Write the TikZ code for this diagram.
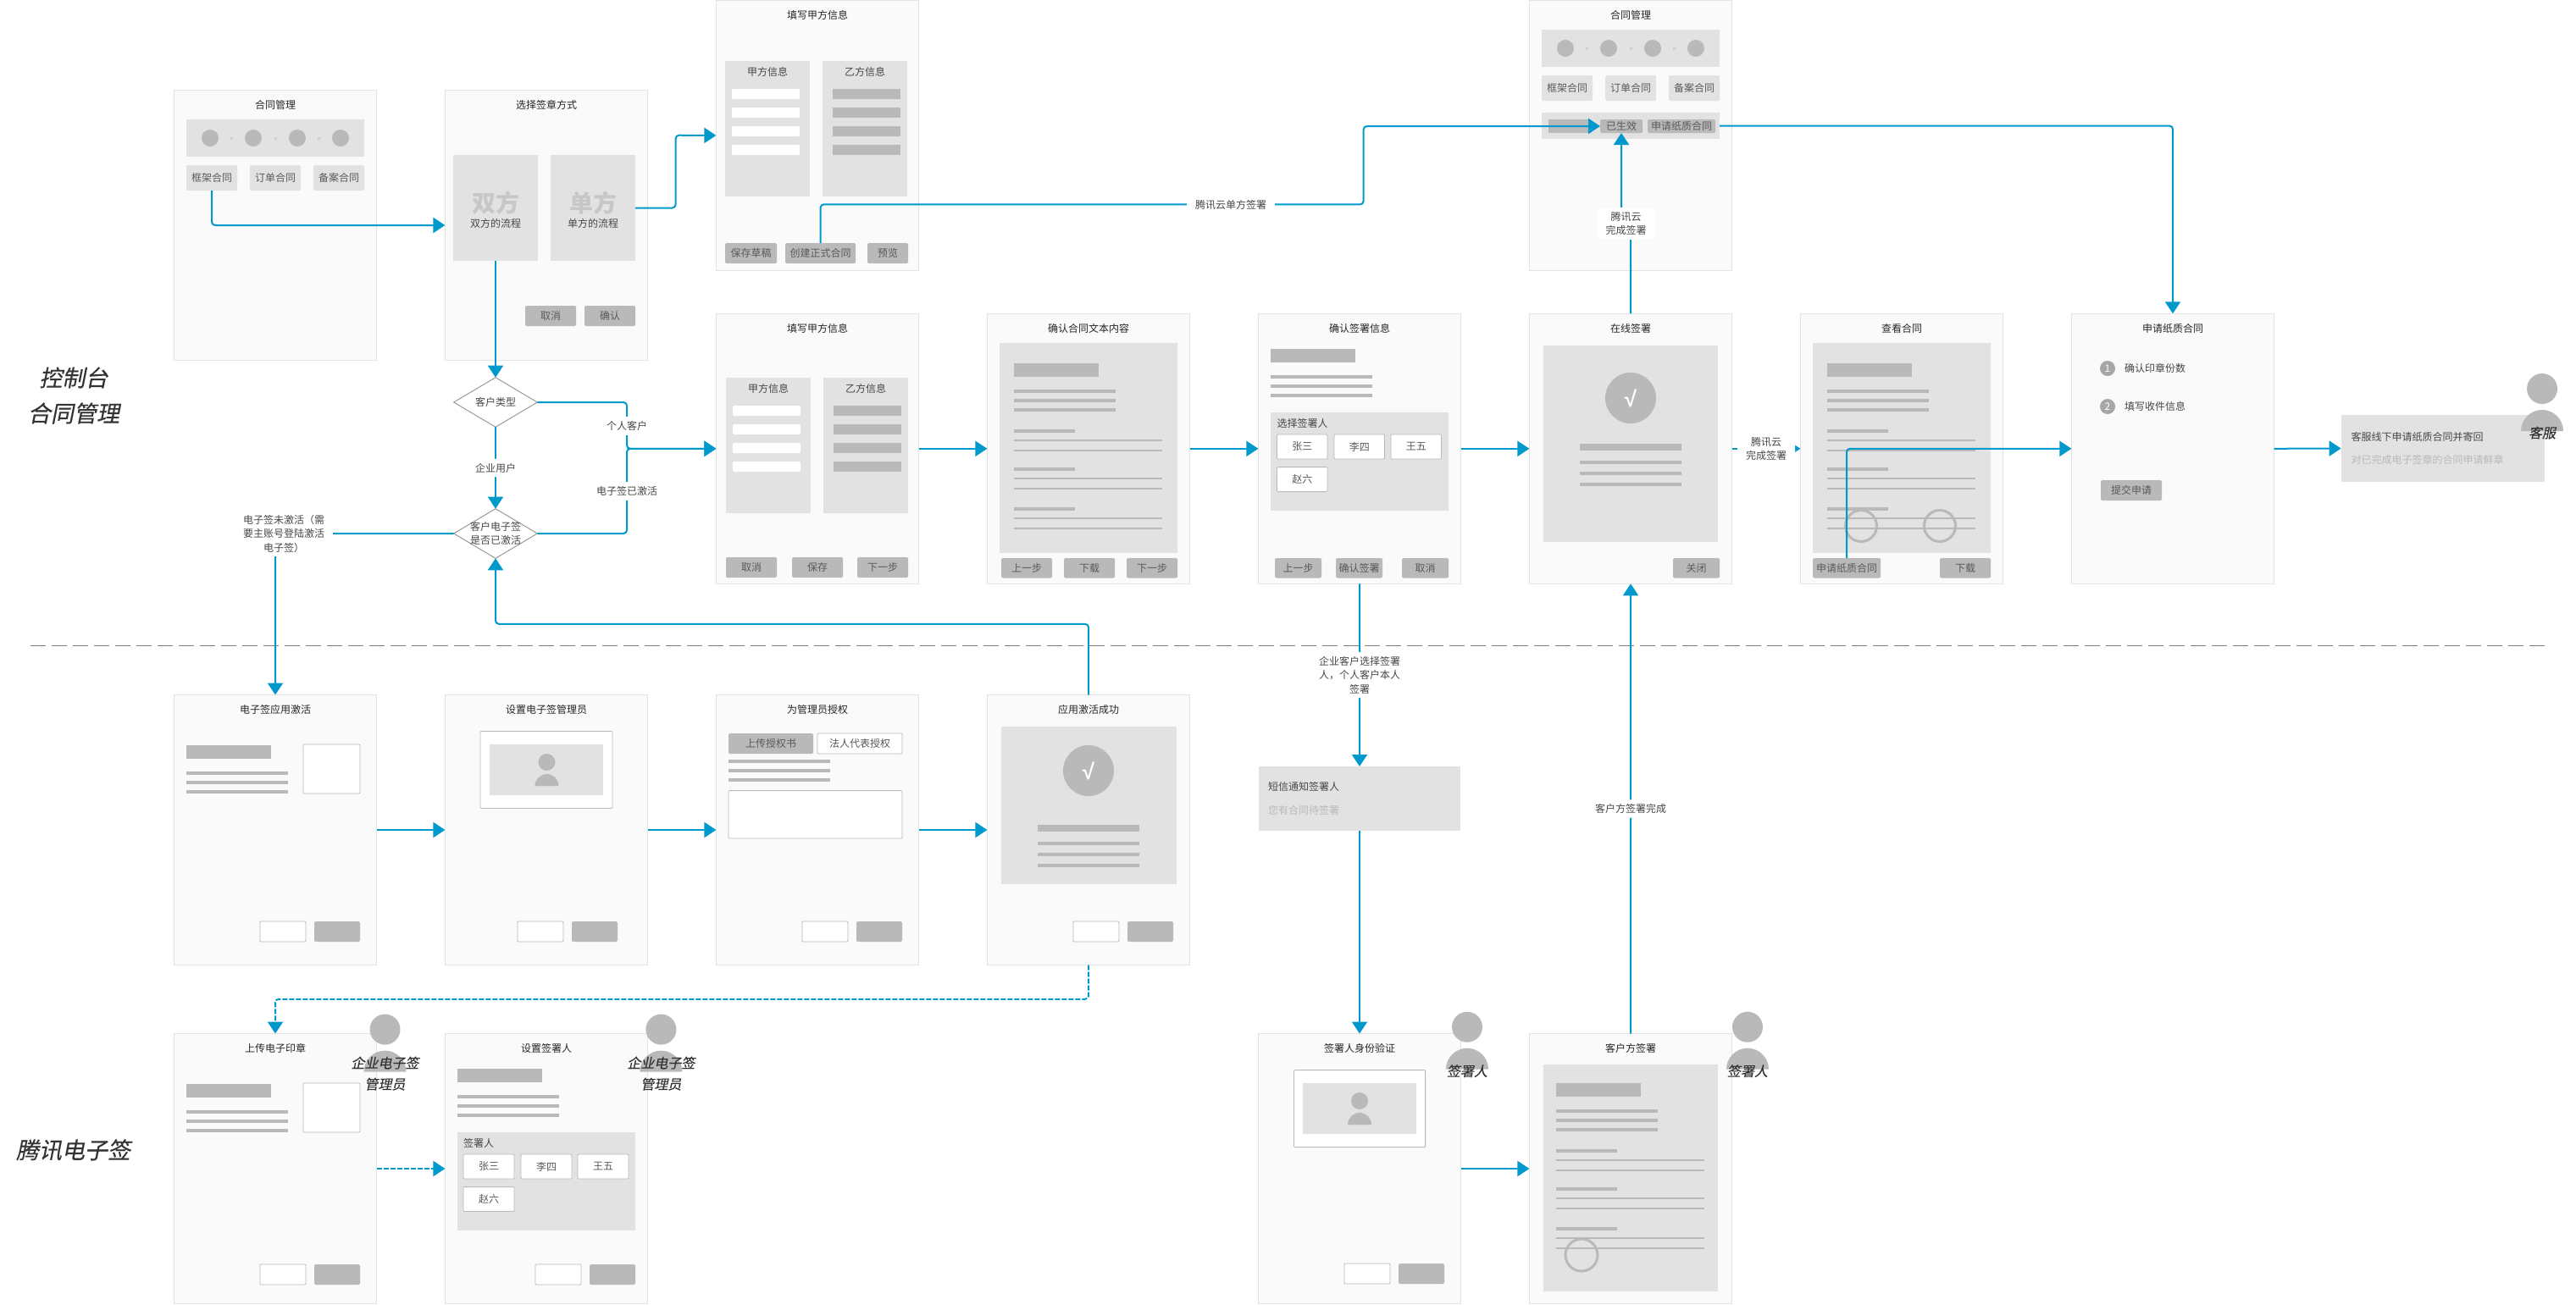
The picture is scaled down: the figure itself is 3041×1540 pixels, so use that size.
\documentclass[tikz,border=0pt]{standalone}
\usepackage{fontspec}
\setmainfont{Noto Sans CJK SC}
\newfontfamily\slantfont[FakeSlant=0.2,FakeBold=0.4]{Noto Sans CJK SC}
\newfontfamily\checkfont{Liberation Sans}
\usepackage{xcolor}
\usetikzlibrary{positioning,arrows.meta,shapes.geometric}

\definecolor{linkblue}{HTML}{0099CC}
\definecolor{panelbg}{HTML}{FAFAFA}
\definecolor{panelline}{HTML}{E3E3E3}
\definecolor{lightgrey}{HTML}{E2E2E2}
\definecolor{darkgrey}{HTML}{B9B9B9}

\tikzset{
  panelbox/.style={draw=panelline,fill=panelbg,line width=1pt,minimum width=239.2pt,minimum height=319pt},
  titletext/.style={text=black!85},
  lbl/.style={text=black!72},
  hint/.style={text=darkgrey},
  note/.style={fill=white,text=black!72,align=center,inner xsep=10pt,inner ysep=5pt},
  group/.style={fill=lightgrey},
  btn/.style={fill=darkgrey,text=black!65,rounded corners=1.5pt},
  softbtn/.style={fill=lightgrey,text=black!65,rounded corners=1.5pt},
  whitebtn/.style={draw=darkgrey,fill=white,text=black!65,line width=.8pt,rounded corners=1pt},
  check/.style={text=white,font=\checkfont\bfseries\fontsize{26pt}{26pt}\selectfont},
  numdot/.style={circle,fill=black!35,text=white,minimum size=18pt},
  dia/.style={diamond,draw=black!40,fill=white,line width=1pt,shape aspect=1.68,minimum width=98.6pt,minimum height=58.6pt},
  link/.style={draw=linkblue,line width=2pt,rounded corners=4pt,-{Triangle[length=14pt,width=18pt]}},
  dashlink/.style={link,dash pattern=on 6pt off 2pt},
  stamp/.style={draw=darkgrey,line width=3pt},
  divider/.style={draw=black!50,line width=1.2pt,dash pattern=on 18pt off 7pt},
  section/.style={text=black!80,align=center,font=\slantfont\fontsize{27pt}{42pt}\selectfont},
  rolename/.style={text=black!80,align=center,font=\slantfont\fontsize{16pt}{25pt}\selectfont}
}

% box given by its corners: style, name, x1, y1, x2, y2, text
\newcommand{\uibox}[7]{\node[#1,minimum width={((#5)-(#3))*1pt},minimum height={((#6)-(#4))*1pt}] (#2) at ({((#3)+(#5))/2},{((#4)+(#6))/2}) {#7};}
\newcommand{\panel}[3]{\node[panelbox,#1] (#2) {}; \node[titletext,below=12pt of #2.north] (#2Title) {#3};}
\newcommand{\thickbars}[3]{\foreach \ypos in {#3} {\fill[darkgrey] (#1,\ypos-2) rectangle (#2,\ypos+2);}}
\newcommand{\thinbars}[3]{\foreach \ypos in {#3} {\fill[darkgrey] (#1,\ypos-1) rectangle (#2,\ypos+1);}}
\newcommand{\stepsbar}[3]{%
  \uibox{group}{#1}{#2}{#3}{#2+210}{#3+44}{}
  \foreach \xoff in {28,79,131,182} {\fill[darkgrey] (#2+\xoff,#3+22) circle[radius=10pt];}
  \foreach \xoff in {53.5,105,156.5} {\fill[darkgrey!70] (#2+\xoff-1.5,#3+20.5) rectangle (#2+\xoff+1.5,#3+23.5);}
}
\newcommand{\partyform}[3]{%
  \uibox{group}{#1Left}{#2}{#3}{#2+100}{#3+160}{}
  \uibox{group}{#1Right}{#2+115}{#3}{#2+215}{#3+160}{}
  \node[lbl] (#1LeftName) at (#2+50,#3+13) {甲方信息};
  \node[lbl] (#1RightName) at (#2+165,#3+13) {乙方信息};
  \foreach \yoff in {33,55,77,99} {
    \fill[white,rounded corners=1pt] (#2+8,#3+\yoff) rectangle (#2+88,#3+\yoff+12);
    \fill[darkgrey] (#2+127,#3+\yoff) rectangle (#2+207,#3+\yoff+12);
  }
}
\newcommand{\contractdoc}[2]{%
  \uibox{group}{#2}{#1-17}{405}{#1+193}{653}{}
  \fill[darkgrey] (#1,429) rectangle (#1+100,445);
  \thickbars{#1}{#1+120}{462,472.6,483.7}
  \thickbars{#1}{#1+72}{509,554,601}
  \thinbars{#1}{#1+175}{520,532,565,577,612,624}
}
\newcommand{\sealbody}[2]{%
  \fill[darkgrey] (219.7,#1+59) rectangle (319.7,#1+75);
  \thickbars{219.7}{340}{#1+92,#1+103,#1+114}
  \uibox{whitebtn}{#2Seal}{358}{#1+58}{425}{#1+116}{}
}
\newcommand{\pairbtns}[3]{%
  \uibox{whitebtn}{#1Back}{#2}{#3}{#2+54}{#3+24}{}
  \uibox{btn}{#1Next}{#2+64}{#3}{#2+118}{#3+24}{}
}
\newcommand{\avatar}[2]{%
  \fill[darkgrey] (#1,#2) circle[radius=10pt];
  \fill[darkgrey] (#1-14,#2+28) arc[start angle=180,end angle=0,x radius=14pt,y radius=14pt] -- cycle;
}
\newcommand{\person}[4]{%
  \node[circle,fill=darkgrey,minimum size=36pt] (#1Head) at (#2,#3) {};
  \fill[darkgrey] (#2-25,#3+50) arc[start angle=180,end angle=0,x radius=25pt,y radius=25pt] -- cycle;
  \node[rolename] (#1Name) at (#2,#3+52) {#4};
}

\begin{document}
\begin{tikzpicture}[x=1pt,y=-1pt,every node/.style={inner sep=0pt,outer sep=0pt,font=\fontsize{12pt}{16.5pt}\selectfont}]
  \useasboundingbox (0,0) rectangle (3041,1540);

  \coordinate (divL) at (36,762.5);
  \coordinate (divR) at (3006,762.5);
  \draw[divider] (divL) -- (divR);

  \node[section] (consoleName) at (87,467) {控制台\\合同管理};
  \node[section] (signName) at (86.5,1358) {腾讯电子签};

  % first row
  \panel{at={(325,266)}}{contract}{合同管理}
  \panel{right=80.8pt of contract}{choice}{选择签章方式}
  \stepsbar{stepsA}{220}{141}
  \uibox{softbtn}{btnFrame}{220}{195}{280}{225}{框架合同}
  \uibox{softbtn}{btnOrder}{295}{195}{355}{225}{订单合同}
  \uibox{softbtn}{btnFile}{370}{195}{430}{225}{备案合同}
  \uibox{group}{cardBoth}{535}{183}{635}{308}{}
  \uibox{group}{cardSingle}{650}{183}{750}{308}{}
  \node[text=black!22,font=\bfseries\fontsize{28pt}{28pt}\selectfont] (bothBig) at (585,240) {双方};
  \node[text=black!22,font=\bfseries\fontsize{28pt}{28pt}\selectfont] (singleBig) at (700,240) {单方};
  \node[lbl] (bothSub) at (585,264) {双方的流程};
  \node[lbl] (singleSub) at (700,264) {单方的流程};
  \uibox{btn}{btnCancel}{620}{361}{680}{385}{取消}
  \uibox{btn}{btnOk}{690}{361}{750}{385}{确认}

  % party forms
  \panel{at={(965,529.8)}}{formMid}{填写甲方信息}
  \panel{above=50.8pt of formMid}{formTop}{填写甲方信息}
  \partyform{top}{856}{72}
  \uibox{btn}{btnDraft}{856}{287}{917}{311}{保存草稿}
  \uibox{btn}{btnCreate}{927}{287}{1010}{311}{创建正式合同}
  \uibox{btn}{btnPreview}{1024}{287}{1072}{311}{预览}
  \partyform{mid}{857}{446}
  \uibox{btn}{btnMidCancel}{857}{658}{917}{682}{取消}
  \uibox{btn}{btnMidSave}{935}{658}{995}{682}{保存}
  \uibox{btn}{btnMidNext}{1012}{658}{1072}{682}{下一步}

  % second row
  \panel{right=80.8pt of formMid}{textDoc}{确认合同文本内容}
  \panel{right=80.8pt of textDoc}{signInfo}{确认签署信息}
  \panel{right=80.8pt of signInfo}{online}{在线签署}
  \panel{right=80.8pt of online}{viewDoc}{查看合同}
  \panel{right=80.8pt of viewDoc}{paper}{申请纸质合同}
  \panel{above=50.8pt of online}{merged}{合同管理}

  \contractdoc{1197}{docText}
  \uibox{btn}{btnTextPrev}{1182}{659}{1242}{682.5}{上一步}
  \uibox{btn}{btnTextLoad}{1256}{659}{1316}{682.5}{下载}
  \uibox{btn}{btnTextNext}{1330}{659}{1390}{682.5}{下一步}

  \fill[darkgrey] (1500,412) rectangle (1600,428);
  \thickbars{1500}{1620}{444.5,455.6,466.8}
  \uibox{group}{pickGroup}{1500}{487}{1710}{603}{}
  \node[lbl,anchor=west] (pickName) at (1507.5,500) {选择签署人};
  \uibox{whitebtn}{pickZhang}{1507.5}{513}{1567}{542}{张三}
  \uibox{whitebtn}{pickLi}{1575}{513}{1634.5}{542}{李四}
  \uibox{whitebtn}{pickWang}{1642}{513}{1701.5}{542}{王五}
  \uibox{whitebtn}{pickZhao}{1507.5}{551.6}{1567}{580.6}{赵六}
  \uibox{btn}{btnInfoPrev}{1505}{659}{1560}{682.5}{上一步}
  \uibox{btn}{btnInfoSign}{1577}{659}{1632}{682.5}{确认签署}
  \uibox{btn}{btnInfoCancel}{1655}{659}{1710}{682.5}{取消}

  \uibox{group}{onlineDoc}{1822}{408}{2028}{640}{}
  \fill[darkgrey] (1925,470) circle[radius=30pt];
  \node[check] (onlineCheck) at (1925,470) {√};
  \fill[darkgrey] (1865,524) rectangle (1985,532);
  \thickbars{1865}{1985}{546,559,572}
  \uibox{btn}{btnClose}{1975}{659}{2030}{682.5}{关闭}

  \stepsbar{stepsB}{1820}{35}
  \uibox{softbtn}{btnFrameB}{1820}{89}{1880}{119}{框架合同}
  \uibox{softbtn}{btnOrderB}{1895}{89}{1955}{119}{订单合同}
  \uibox{softbtn}{btnFileB}{1970}{89}{2030}{119}{备案合同}
  \uibox{group}{statusBar}{1820}{133}{2030}{164}{}
  \fill[darkgrey] (1828,141) rectangle (1878,157);
  \uibox{btn}{effective}{1889}{141}{1939}{157}{已生效}
  \uibox{btn}{applyPaper}{1945}{141}{2025}{157}{申请纸质合同}

  \contractdoc{2157}{docView}
  \draw[stamp] (2197,621) circle[radius=18.5pt];
  \draw[stamp] (2290,621) circle[radius=18.5pt];
  \uibox{btn}{btnApply}{2140}{659}{2220}{682.5}{申请纸质合同}
  \uibox{btn}{btnLoad}{2290}{659}{2350}{682.5}{下载}

  \node[numdot] (numOne) at (2488,435) {1};
  \node[numdot] (numTwo) at (2488,480) {2};
  \node[lbl,right=11pt of numOne] (stepOne) {确认印章份数};
  \node[lbl,right=11pt of numTwo] (stepTwo) {填写收件信息};
  \uibox{btn}{btnSubmit}{2480}{567}{2552}{591}{提交申请}

  \uibox{group}{serviceBox}{2763.6}{490}{3003.6}{569}{}
  \node[lbl,anchor=west] (serviceTxt) at (2775.6,516) {客服线下申请纸质合同并寄回};
  \node[hint,anchor=west] (serviceHint) at (2775.6,543) {对已完成电子签章的合同申请鲜章};

  % third row
  \panel{at={(325,980)}}{appActive}{电子签应用激活}
  \panel{right=80.8pt of appActive}{adminSet}{设置电子签管理员}
  \panel{right=80.8pt of adminSet}{grant}{为管理员授权}
  \panel{right=80.8pt of grant}{success}{应用激活成功}

  \sealbody{821}{active}
  \pairbtns{active}{307}{1088}

  \uibox{whitebtn}{adminCard}{567}{863.5}{723}{954.5}{}
  \uibox{group}{adminPhoto}{578}{879}{712}{939}{}
  \avatar{645.5}{900}
  \pairbtns{admin}{611}{1088}

  \uibox{btn}{tabUpload}{860}{866}{960}{890}{上传授权书}
  \uibox{whitebtn}{tabLegal}{965}{866}{1065}{890}{法人代表授权}
  \thickbars{860}{980}{899,910,921}
  \uibox{whitebtn}{grantBox}{860}{933.6}{1065}{990}{}
  \pairbtns{grant}{947}{1088}

  \uibox{group}{successDoc}{1182}{858}{1388.5}{1044}{}
  \fill[darkgrey] (1285,910) circle[radius=30pt];
  \node[check] (successCheck) at (1285,910) {√};
  \fill[darkgrey] (1225,974) rectangle (1345,982);
  \thickbars{1225}{1345}{996,1009,1022}
  \pairbtns{success}{1267}{1088}

  \uibox{group}{smsBox}{1486}{905}{1724}{981}{}
  \node[lbl,anchor=west] (smsTxt) at (1497,929) {短信通知签署人};
  \node[hint,anchor=west] (smsHint) at (1497,956.6) {您有合同待签署};

  % last row
  \panel{at={(325,1380)}}{seal}{上传电子印章}
  \panel{right=80.8pt of seal}{signer}{设置签署人}
  \panel{at={(1605,1380)}}{verify}{签署人身份验证}
  \panel{right=80.8pt of verify}{clientDoc}{客户方签署}

  \sealbody{1221}{seal}
  \pairbtns{seal}{307}{1493}

  \fill[darkgrey] (540,1262) rectangle (640,1278);
  \thickbars{540}{660}{1295,1306,1317}
  \uibox{group}{signerGroup}{540}{1337}{750}{1453}{}
  \node[lbl,anchor=west] (signerName) at (547,1349.5) {签署人};
  \uibox{whitebtn}{signerZhang}{547}{1363}{607}{1392}{张三}
  \uibox{whitebtn}{signerLi}{615}{1363}{675}{1392}{李四}
  \uibox{whitebtn}{signerWang}{682}{1363}{742}{1392}{王五}
  \uibox{whitebtn}{signerZhao}{547}{1401.6}{607}{1430.5}{赵六}
  \pairbtns{signer}{632}{1493}

  \uibox{whitebtn}{verifyCard}{1527.5}{1263.6}{1682.6}{1354.6}{}
  \uibox{group}{verifyPhoto}{1537.8}{1279}{1672}{1338.6}{}
  \avatar{1605}{1300}
  \pairbtns{verify}{1587}{1492}

  \uibox{group}{clientPage}{1822}{1257}{2028}{1525}{}
  \fill[darkgrey] (1837,1279) rectangle (1937,1295);
  \thickbars{1837}{1957}{1312,1323,1334}
  \thickbars{1837}{1909}{1359,1404,1451}
  \thinbars{1837}{2012}{1370,1382,1415,1427,1462,1474}
  \draw[stamp] (1867,1482) circle[radius=19pt];

  % connectors
  \coordinate (bendTop) at (797.6,159.7);
  \coordinate (bendCloud) at (1609.6,241.4);
  \coordinate (joinForm) at (740,529.8);
  \coordinate (jogMerged) at (1914,264);
  \coordinate (bendBack) at (585,736.8);
  \coordinate (bendDash) at (325,1179.8);

  \node[dia] (custType) at (585,475) {};
  \node[dia] (custSign) at (585,630) {};

  \draw[link] (btnFrame.south) |- (choice.west);
  \draw[link] (cardSingle.east) -| (bendTop) -- (formTop.west);
  \draw[link] (cardBoth.south) -- (custType.north);
  \draw[link] (custType.south) -- node[note] (lblCorp) {企业用户} (custSign.north);
  \draw[link] (custType.east) -| (joinForm) -- (formMid.west);
  \draw[link] (custSign.east) -| (joinForm) -- (formMid.west);
  \draw[link] (custSign.west) -| (appActive.north);
  \draw[link] (btnCreate.north) |- (bendCloud) |- (effective.west);
  \draw[link] (formMid.east) -- (textDoc.west);
  \draw[link] (textDoc.east) -- (signInfo.west);
  \draw[link] (signInfo.east) -- (online.west);
  \draw[link] (online.north) |- (jogMerged) -- (effective.south);
  \draw[link] (online.east) -- node[note] (lblCloud) {腾讯云\\完成签署} (viewDoc.west);
  \draw[link] (statusBar.east) -| (paper.north);
  \draw[link] (btnApply.north) |- (paper.west);
  \draw[link] (paper.east) -- (serviceBox.west);
  \draw[link] (appActive.east) -- (adminSet.west);
  \draw[link] (adminSet.east) -- (grant.west);
  \draw[link] (grant.east) -- (success.west);
  \draw[link] (success.north) |- (bendBack) -- (custSign.south);
  \draw[dashlink] (success.south) |- (bendDash) -- (seal.north);
  \draw[dashlink] (seal.east) -- (signer.west);
  \draw[link] (signInfo.south) -- node[note] (lblPick) {企业客户选择签署\\人，个人客户本人\\签署} (smsBox.north);
  \draw[link] (smsBox.south) -- (verify.north);
  \draw[link] (verify.east) -- (clientDoc.west);
  \draw[link] (clientDoc.north) -- node[note] (lblDone) {客户方签署完成} (online.south);

  \node[lbl,align=center] (custTypeTxt) at (custType) {客户类型};
  \node[lbl,align=center] (custSignTxt) at (custSign) {客户电子签\\是否已激活};
  \node[note] (lblPersonal) at (740,503) {个人客户};
  \node[note] (lblActive) at (740,580) {电子签已激活};
  \node[note] (lblInactive) at (335,630) {电子签未激活（需\\要主账号登陆激活\\电子签）};
  \node[note] (lblSingle) at (1453,242) {腾讯云单方签署};
  \node[note] (lblCloudDone) at (1919.6,264) {腾讯云\\完成签署};

  % roles
  \person{roleSeal}{454.5}{1215.6}{企业电子签\\管理员}
  \person{roleSigner}{780.4}{1215.6}{企业电子签\\管理员}
  \person{roleVerify}{1732}{1212.7}{签署人}
  \person{roleClient}{2063}{1212.7}{签署人}
  \person{roleService}{3001}{459}{客服}
\end{tikzpicture}
\end{document}
